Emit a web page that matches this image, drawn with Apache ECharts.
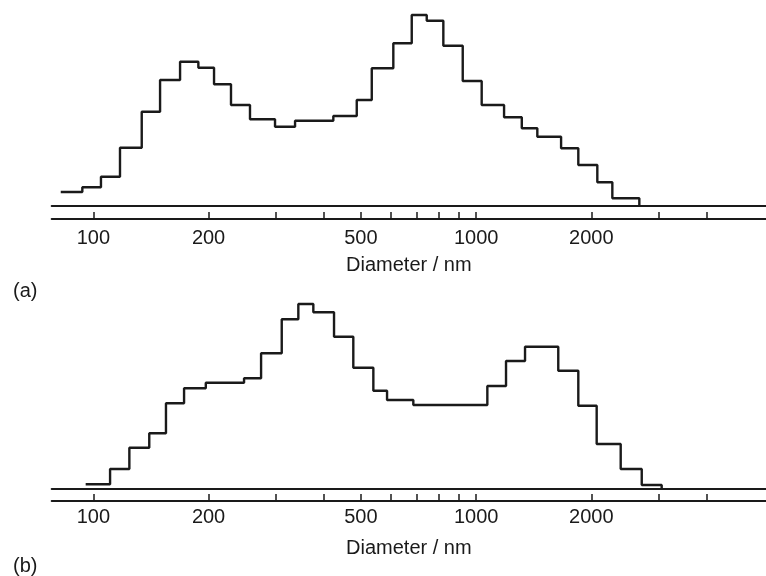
<!DOCTYPE html>
<html>
<head>
<meta charset="utf-8">
<script src="https://cdn.jsdelivr.net/npm/echarts@6/dist/echarts.min.js"></script>
<style>
html,body{margin:0;padding:0;background:#fff;}
#chart{width:766px;height:576px;}
</style>
</head>
<body>
<div id="chart"></div>
<script>
// Panel (a): bin edges (nm) and heights (arbitrary units)
var edgesA = [82.2, 93.6, 104.7, 117.4, 133.8, 149.4, 168.5, 188.1, 206.7, 228.9, 256.6, 298.3, 336.5, 377.3, 423.6, 487.7, 533.8, 607.7, 678.9, 743.0, 821, 922.6, 1034, 1183, 1316, 1445, 1667, 1849, 2073, 2269, 2669];
var heightsA = [14, 18.7, 29.3, 58.3, 94.3, 126, 144.3, 138.3, 121.7, 101, 86.7, 79.3, 85.3, 85.3, 90, 106, 137.7, 162.7, 191, 185.3, 160.3, 125, 101, 88.7, 77.7, 69.3, 57.7, 41, 23.7, 7.7];

// Panel (b): bin edges (nm) and heights (arbitrary units)
var edgesB = [95.5, 110.6, 124.2, 140.0, 154.8, 172.6, 196.7, 247.6, 274.3, 310.6, 343.2, 375.6, 425.4, 477.7, 538.9, 585.2, 685.4, 1069.8, 1197, 1342, 1639, 1849, 2065, 2386, 2708, 3053];
var heightsB = [4.7, 20, 41.3, 55.7, 85.7, 100.7, 106.3, 110.7, 135.7, 169.7, 185, 176.7, 152.3, 121.3, 98.3, 89, 84, 103, 128, 142.3, 118.3, 83.3, 45, 20, 4];

// Axis ticks and labels (nm)
var tickMarks = [100, 200, 300, 400, 500, 600, 700, 800, 900, 1000, 2000, 3000, 4000];
var tickLabels = [100, 200, 500, 1000, 2000];
var axisMin = 77.85, axisMax = 5718;
var axisTitle = 'Diameter / nm';
var panelLabels = ['(a)', '(b)'];

function stepData(edges, heights) {
  var d = [];
  for (var i = 0; i < heights.length; i++) d.push([edges[i], heights[i]]);
  d.push([edges[edges.length - 1], 0]);
  return d;
}

var ink = '#1a1a1a';
var font = "'Liberation Sans', Arial, Helvetica, sans-serif";

function logAxis(grid) {
  return {
    type: 'log', logBase: 10, gridIndex: grid, min: axisMin, max: axisMax,
    axisLine: { show: true, onZero: false, lineStyle: { color: ink, width: 2 } },
    axisTick: { show: false }, axisLabel: { show: false }, splitLine: { show: false }
  };
}
function tickAxis(grid, offset, margin, gap) {
  return {
    type: 'value', gridIndex: grid, position: 'bottom', offset: offset,
    min: Math.log10(axisMin), max: Math.log10(axisMax),
    axisLine: { show: true, onZero: false, lineStyle: { color: ink, width: 2 } },
    axisTick: { show: true, inside: true, length: 7, lineStyle: { color: ink, width: 1.5 },
      customValues: tickMarks.map(function (v) { return Math.log10(v); }) },
    axisLabel: { show: true, margin: margin, fontSize: 20, color: ink, fontFamily: font,
      customValues: tickLabels.map(function (v) { return Math.log10(v); }),
      formatter: function (v) { return String(Math.round(Math.pow(10, v))); } },
    splitLine: { show: false },
    name: axisTitle, nameLocation: 'middle', nameGap: gap,
    nameTextStyle: { fontSize: 20, color: ink, fontFamily: font }
  };
}

var chart = echarts.init(document.getElementById('chart'), null, { renderer: 'canvas' });
chart.setOption({
  animation: false,
  backgroundColor: '#fff',
  title: [
    { text: panelLabels[0], left: 8, top: 276, textStyle: { fontSize: 20, fontWeight: 'normal', color: ink, fontFamily: font } },
    { text: panelLabels[1], left: 8, top: 551, textStyle: { fontSize: 20, fontWeight: 'normal', color: ink, fontFamily: font } }
  ],
  grid: [
    { left: 51.7, right: 0, top: 0, height: 206, containLabel: false },
    { left: 51.7, right: 0, top: 283, height: 206, containLabel: false }
  ],
  xAxis: [logAxis(0), tickAxis(0, 13, 9, 36), logAxis(1), tickAxis(1, 12, 6, 37)],
  yAxis: [
    { type: 'value', gridIndex: 0, min: 0, max: 206, show: false },
    { type: 'value', gridIndex: 1, min: 0, max: 206, show: false }
  ],
  series: [
    { type: 'line', xAxisIndex: 0, yAxisIndex: 0, step: 'end', showSymbol: false,
      lineStyle: { color: ink, width: 2.4 }, data: stepData(edgesA, heightsA) },
    { type: 'line', xAxisIndex: 2, yAxisIndex: 1, step: 'end', showSymbol: false,
      lineStyle: { color: ink, width: 2.4 }, data: stepData(edgesB, heightsB) }
  ]
});
</script>
</body>
</html>
